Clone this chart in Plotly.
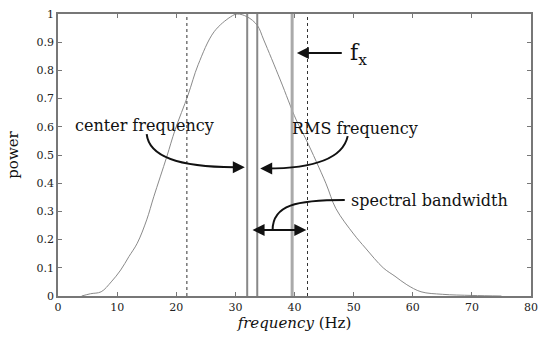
import plotly.graph_objects as go

# Power spectrum
freq = [4, 5.5, 7.3, 9, 10.6, 12, 13.4, 15, 16.2, 18.4, 19.8, 22, 23.7, 26.4, 29.2,
        30.3, 32, 33.7, 34.8, 37.6, 40.3, 42, 45.3, 47, 50, 52, 55, 57, 59, 61.4, 65, 70, 75]
power = [0.0, 0.008, 0.015, 0.05, 0.092, 0.14, 0.187, 0.27, 0.352, 0.494, 0.589, 0.713, 0.82, 0.937, 0.99,
         1.0, 0.99, 0.96, 0.908, 0.766, 0.624, 0.553, 0.4, 0.31, 0.22, 0.17, 0.1, 0.07, 0.04, 0.015, 0.006, 0.002, 0.0]

center_freq = 32.0
rms_freq = 33.7
f_x = 39.6
band_low = 21.8
band_high = 42.2

x_ticks = [0, 10, 20, 30, 40, 50, 60, 70, 80]
y_ticks = [0, 0.1, 0.2, 0.3, 0.4, 0.5, 0.6, 0.7, 0.8, 0.9, 1]
y_labels = ["0", "0.1", "0.2", "0.3", "0.4", "0.5", "0.6", "0.7", "0.8", "0.9", "1"]

SERIF = "DejaVu Serif"

fig = go.Figure()
fig.add_trace(go.Scatter(x=freq, y=power, mode="lines", line=dict(color="#8a8a8a", width=1, shape="spline"),
                         hoverinfo="skip"))
for v, col, w, dash in [(band_low, "#333", 1, "dot"), (band_high, "#333", 1, "dot"),
                        (center_freq, "#888", 2, "solid"), (rms_freq, "#888", 2, "solid"),
                        (f_x, "#aaa", 3, "solid")]:
    fig.add_trace(go.Scatter(x=[v, v], y=[0, 1], mode="lines",
                             line=dict(color=col, width=w, dash=dash), hoverinfo="skip"))

ann_font = dict(family=SERIF, size=16, color="#111")
annotations = [
    dict(x=14.7, y=0.605, text="center frequency", showarrow=False, xanchor="center", font=ann_font),
    dict(x=50.2, y=0.595, text="RMS frequency", showarrow=False, xanchor="center", font=ann_font),
    dict(x=49.2, y=0.34, text="spectral bandwidth", showarrow=False, xanchor="left", font=ann_font),
    dict(x=49.0, y=0.855, text="f<sub>x</sub>", showarrow=False, xanchor="left",
         font=dict(family=SERIF, size=22, color="#111")),
    # arrowheads
    dict(x=31.6, y=0.457, ax=-12, ay=0, text=" ", showarrow=True, arrowhead=2, arrowsize=1.2,
         arrowwidth=2, arrowcolor="#111"),
    dict(x=34.2, y=0.452, ax=12, ay=0, text=" ", showarrow=True, arrowhead=2, arrowsize=1.2,
         arrowwidth=2, arrowcolor="#111"),
    dict(x=40.4, y=0.862, ax=48.5, ay=0.862, axref="x", ayref="y", text=" ", showarrow=True,
         arrowhead=2, arrowsize=1.2, arrowwidth=2, arrowcolor="#111"),
    dict(x=42.0, y=0.234, ax=32.4, ay=0.234, axref="x", ayref="y", text=" ", showarrow=True,
         arrowhead=2, startarrowhead=2, arrowside="end+start", arrowsize=1.2, startarrowsize=1.2,
         arrowwidth=2, arrowcolor="#111"),
]
shapes = [
    dict(type="path", xref="x", yref="y", path="M 15,0.574 Q 15.6,0.454 30.5,0.457",
         line=dict(color="#111", width=2)),
    dict(type="path", xref="x", yref="y", path="M 49,0.567 Q 47.8,0.452 35.2,0.452",
         line=dict(color="#111", width=2)),
    dict(type="path", xref="x", yref="y", path="M 48.5,0.34 C 40.3,0.34 36.3,0.323 36.3,0.234",
         line=dict(color="#111", width=2)),
]

axis_common = dict(showline=True, mirror="ticks", linecolor="#777", linewidth=1.5, ticks="inside",
                   ticklen=4, tickcolor="#777", showgrid=False, zeroline=False,
                   tickfont=dict(family=SERIF, size=11, color="#222"))
fig.update_layout(
    width=546, height=341, margin=dict(l=58, r=8, t=14, b=45),
    paper_bgcolor="white", plot_bgcolor="white", showlegend=False,
    xaxis=dict(range=[0, 80], tickvals=x_ticks, **axis_common,
               title=dict(text="<i>frequency</i> (Hz)", standoff=4,
                          font=dict(family=SERIF, size=15, color="#111"))),
    yaxis=dict(range=[0, 1], tickvals=y_ticks, ticktext=y_labels, **axis_common,
               title=dict(text="power", standoff=14, font=dict(family=SERIF, size=15, color="#111"))),
    annotations=annotations, shapes=shapes,
)
fig.write_html("out.html")
